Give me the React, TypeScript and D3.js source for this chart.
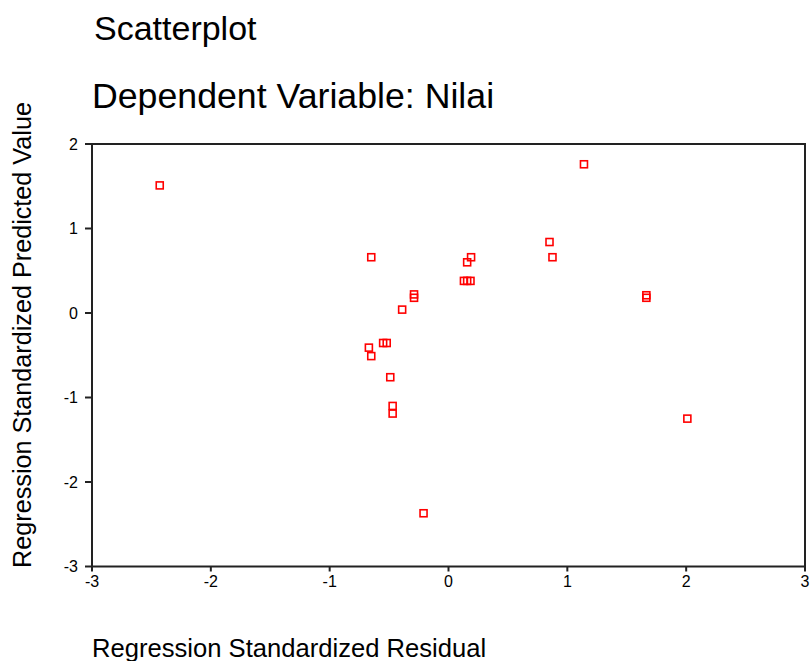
import React from "react";
import * as d3 from "d3";

const residuals = [-2.43, 1.14, 0.85, 0.875, 1.665, 1.665, 2.01, -0.65, 0.19, 0.157, 0.13, 0.157, 0.185, -0.29, -0.29, -0.39, -0.55, -0.52, -0.67, -0.65, -0.49, -0.47, -0.47, -0.21];
const predicted = [1.51, 1.76, 0.84, 0.66, 0.21, 0.18, -1.25, 0.66, 0.66, 0.60, 0.38, 0.38, 0.38, 0.22, 0.18, 0.04, -0.355, -0.355, -0.41, -0.51, -0.76, -1.10, -1.19, -2.37];
const xTicks = [-3, -2, -1, 0, 1, 2, 3];
const yTicks = [-3, -2, -1, 0, 1, 2];
const title1 = "Scatterplot";
const title2 = "Dependent Variable: Nilai";
const xLabel = "Regression Standardized Residual";
const yLabel = "Regression Standardized Predicted Value";

export default function App() {
  const W = 810, H = 661;
  const left = 92, right = 805, top = 144, bottom = 566.5;
  const x = d3.scaleLinear().domain([-3, 3]).range([left, right]);
  const y = d3.scaleLinear().domain([-3, 2]).range([bottom, top]);
  const font = "'Liberation Sans', Arial, sans-serif";
  const axisColor = "#222";
  const ms = 7;
  return (
    <svg width={W} height={H} style={{ position: "absolute", left: 0, top: 0, background: "#fff" }} fontFamily={font}>
      <rect x={0} y={0} width={W} height={H} fill="#fff" />
      <text x={94} y={40} fontSize={34} fill="#000">{title1}</text>
      <text x={92} y={108} fontSize={35.7} fill="#000">{title2}</text>
      <text transform={`translate(31,335) rotate(-90)`} textAnchor="middle" fontSize={25.2} fill="#000">{yLabel}</text>
      <text x={92} y={657} fontSize={25.6} fill="#000">{xLabel}</text>
      <rect x={left} y={top} width={right - left} height={bottom - top} fill="none" stroke={axisColor} strokeWidth={2} />
      {yTicks.map((t) => (
        <g key={"y" + t}>
          <line x1={left - 7} x2={left} y1={y(t)} y2={y(t)} stroke={axisColor} strokeWidth={2} />
          <text x={left - 14} y={y(t)} dy="0.36em" textAnchor="end" fontSize={16} fill="#000">{t}</text>
        </g>
      ))}
      {xTicks.map((t) => (
        <g key={"x" + t}>
          <line x1={x(t)} x2={x(t)} y1={bottom} y2={bottom + 5} stroke={axisColor} strokeWidth={2} />
          <text x={x(t)} y={bottom + 20} textAnchor="middle" fontSize={16} fill="#000">{t}</text>
        </g>
      ))}
      {residuals.map((r, i) => (
        <rect key={i} x={x(r) - ms / 2} y={y(predicted[i]) - ms / 2} width={ms} height={ms} fill="none" stroke="#ff0000" strokeWidth={1.6} />
      ))}
    </svg>
  );
}
